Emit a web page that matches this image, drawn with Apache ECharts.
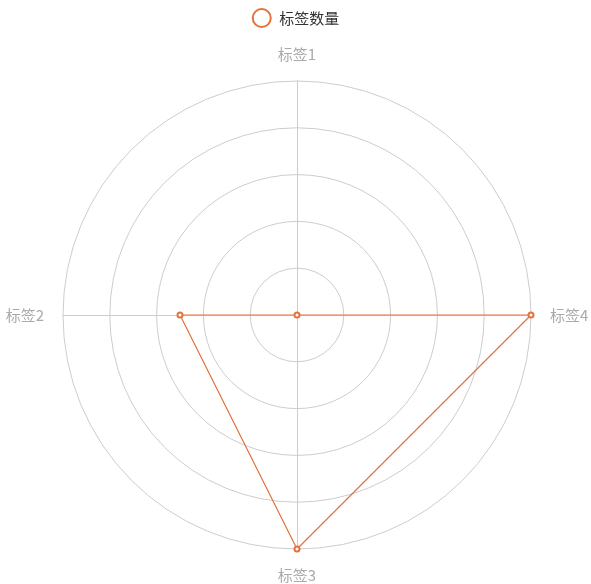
<!DOCTYPE html>
<html><head><meta charset="utf-8">
<script src="https://cdn.jsdelivr.net/npm/echarts@6/dist/echarts.min.js"></script>
<style>html,body{margin:0;padding:0;background:#fff}#c{width:591px;height:584px}</style>
</head><body><div id="c"></div>
<script>
const indicators = ['标签1','标签2','标签3','标签4'];
const maxValues = [100,100,100,100];
const seriesName = '标签数量';
const values = [0,50,100,100];
const chart = echarts.init(document.getElementById('c'));
chart.setOption({
  animation:false,
  color:['#e3733b'],
  legend:{top:3,left:'center',icon:'emptyCircle',data:[seriesName],itemWidth:25,itemHeight:18,
    textStyle:{color:'#333',fontSize:15,fontFamily:'Noto Sans CJK SC'}},
  radar:{
    center:[297,315],radius:234,shape:'circle',splitNumber:5,
    indicator:indicators.map((n,i)=>({name:n,max:maxValues[i],min:0})),
    axisName:{color:'#aaa',fontSize:15,fontFamily:'Noto Sans CJK SC'},
    nameGap:19,
    splitArea:{show:false},
    splitLine:{lineStyle:{color:'#ccc'}},
    axisLine:{lineStyle:{color:'#ccc'}}
  },
  series:[{type:'radar',name:seriesName,symbol:'emptyCircle',symbolSize:5,
    lineStyle:{width:1.2},
    data:[{value:values,name:seriesName}]}]
});
</script></body></html>
